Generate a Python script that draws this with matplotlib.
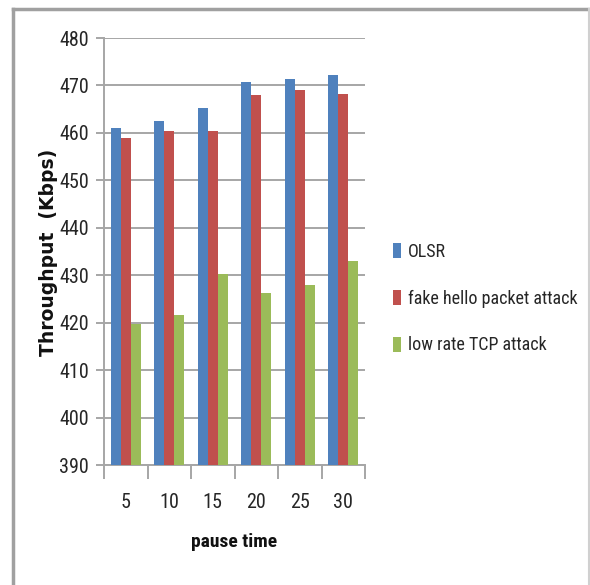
import matplotlib
matplotlib.use("Agg")
import matplotlib.pyplot as plt
from matplotlib.lines import Line2D
import numpy as np

# Throughput versus pause time for OLSR with and without attacks
pause_times = ["5", "10", "15", "20", "25", "30"]
olsr = [461.1, 462.5, 465.2, 470.7, 471.4, 472.3]
fake_hello = [459.0, 460.4, 460.4, 467.9, 469.0, 468.3]
low_rate_tcp = [419.8, 421.6, 430.3, 426.2, 427.9, 433.1]
series_names = ["OLSR", "fake hello packet attack", "low rate TCP attack"]
colors = ["#4F81BD", "#C0504D", "#9BBB59"]

y_ticks = list(range(390, 481, 10))

narrow = ["Roboto Condensed", "Lato", "DejaVu Sans"]
plt.rcParams["font.family"] = narrow

fig = plt.figure(figsize=(5.9, 5.85), dpi=100)
ax = fig.add_axes([0.1763, 0.2051, 0.4424, 0.7299])

x = np.arange(len(pause_times))
width = 0.23
for i, (vals, name, c) in enumerate(zip([olsr, fake_hello, low_rate_tcp], series_names, colors)):
    ax.bar(x + (i - 1) * width, vals, width, color=c, label=name, zorder=3)

grid_c = "#A6A6A6"
text_c = "#262626"
ax.set_xlim(-0.5, len(pause_times) - 0.5)
ax.set_ylim(390, 480)
ax.set_yticks(y_ticks)
ax.set_yticklabels([str(v) for v in y_ticks], fontsize=14.5, color=text_c)
ax.yaxis.grid(True, color=grid_c, linewidth=1.4, zorder=0)

ax.set_xticks(x)
ax.set_xticklabels(pause_times, fontsize=14.5, color=text_c)
ax.set_xticks(np.arange(-0.5, len(pause_times)), minor=True)
ax.tick_params(axis="x", which="major", length=0, pad=20)
ax.tick_params(axis="x", which="minor", length=10, width=1.4, color=grid_c)
ax.tick_params(axis="y", length=6, width=1.4, color=grid_c, pad=5)

for s in ["top", "right"]:
    ax.spines[s].set_visible(False)
for s in ["left", "bottom"]:
    ax.spines[s].set_color(grid_c)
    ax.spines[s].set_linewidth(1.4)

ax.set_xlabel("pause time", fontsize=14, fontweight="bold", color="#111111", labelpad=15)
ax.set_ylabel("Throughput  (Kbps)", fontsize=13.5, fontweight="bold", color="#111111",
              family=["DejaVu Sans"])
ax.yaxis.set_label_coords(-0.175, 0.499)

leg = ax.legend(loc="center left", bbox_to_anchor=(1.08, 0.39), frameon=False,
                fontsize=13, handlelength=0.45, handleheight=0.9,
                handletextpad=0.35, labelspacing=1.6, borderaxespad=0)
for t in leg.get_texts():
    t.set_color(text_c)

# outer frame
fig.add_artist(Line2D([0.022, 0.022], [0.0, 0.985], color="#A0A0A0", linewidth=2.5))
fig.add_artist(Line2D([0.022, 0.998], [0.985, 0.985], color="#A0A0A0", linewidth=2.5))
fig.add_artist(Line2D([0.998, 0.998], [0.0, 0.985], color="#D0D0D0", linewidth=1.5))

fig.savefig("out.png", dpi=100)
